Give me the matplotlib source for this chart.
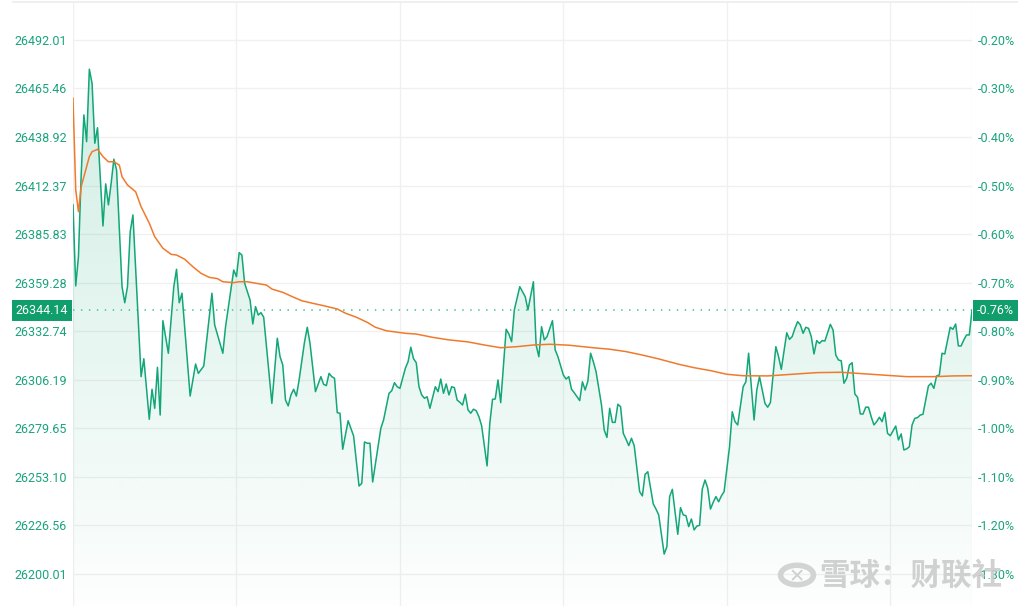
import numpy as np
import matplotlib
matplotlib.use("Agg")
import matplotlib.pyplot as plt
import matplotlib.transforms as mtransforms
from matplotlib.lines import Line2D
from matplotlib.patches import Circle

plt.rcParams['font.family'] = ['Roboto', 'Noto Sans CJK SC', 'DejaVu Sans']

# minute index (0..330 over the trading day) and index level
price_t = [0, 1, 2, 3, 4, 5, 6, 7, 8, 9, 11, 12, 13, 14, 15, 16, 18, 19, 20, 21, 22,
           25, 26, 28, 29, 30, 31, 32, 33, 35, 37, 38, 39, 40, 43, 45, 46, 48, 51, 52,
           55, 56, 59, 60, 61, 62, 63, 65, 66, 67, 68, 69, 70, 73, 75, 76, 77, 78, 79,
           80, 81, 82, 83, 85, 86, 87, 89, 91, 92, 93, 94, 95, 96, 97, 98, 99, 101,
           102, 103, 105, 106, 107, 108, 109, 110, 113, 114, 116, 117, 118, 119, 120,
           122, 123, 124, 125, 126, 127, 128, 129, 130, 131, 133, 134, 135, 136, 137,
           138, 139, 140, 141, 142, 143, 144, 145, 146, 147, 148, 149, 150, 152, 153,
           154, 155, 156, 157, 159, 160, 161, 162, 163, 164, 165, 166, 167, 169, 170,
           171, 172, 173, 174, 176, 177, 178, 180, 181, 182, 183, 184, 185, 186, 187,
           188, 189, 190, 191, 192, 194, 195, 196, 197, 198, 199, 200, 201, 202, 203,
           204, 205, 206, 208, 209, 210, 211, 213, 214, 215, 217, 218, 219, 220, 222,
           223, 224, 225, 226, 227, 228, 229, 230, 231, 232, 233, 234, 235, 236, 237,
           238, 239, 241, 242, 243, 244, 246, 247, 248, 250, 251, 252, 254, 255, 256,
           258, 259, 260, 262, 263, 264, 265, 266, 267, 268, 269, 270, 271, 272, 273,
           274, 275, 276, 278, 279, 280, 281, 282, 283, 284, 285, 286, 287, 288, 289,
           290, 291, 292, 293, 294, 295, 296, 297, 298, 299, 300, 302, 303, 304, 305,
           306, 307, 308, 309, 310, 311, 312, 314, 315, 316, 317, 318, 319, 320, 322,
           323, 324, 325, 326, 327, 328, 329, 330]
price_v = [26401.8, 26357.5, 26373.5, 26418.2, 26451.0, 26436.4, 26476.0, 26468.3,
           26435.5, 26444.0, 26390.3, 26413.3, 26401.8, 26413.6, 26426.8, 26420.9,
           26357.1, 26348.3, 26357.1, 26387.2, 26396.3, 26307.9, 26317.7, 26284.6,
           26301.0, 26290.6, 26313.0, 26286.9, 26338.5, 26320.7, 26357.1, 26366.6,
           26348.3, 26353.5, 26297.3, 26314.8, 26309.7, 26313.7, 26353.5, 26336.2,
           26320.7, 26335.2, 26366.2, 26362.6, 26375.7, 26374.4, 26359.0, 26349.8,
           26336.7, 26346.2, 26341.6, 26342.9, 26340.4, 26293.3, 26328.9, 26318.8,
           26314.3, 26295.1, 26291.9, 26297.9, 26301.0, 26297.3, 26306.1, 26327.0,
           26334.9, 26326.1, 26299.7, 26307.9, 26303.7, 26303.0, 26309.7, 26307.9,
           26307.0, 26288.2, 26287.9, 26268.2, 26283.8, 26279.7, 26275.5, 26248.1,
           26249.6, 26272.2, 26271.5, 26271.5, 26250.3, 26279.7, 26284.2, 26298.8,
           26300.2, 26304.6, 26302.4, 26301.5, 26312.5, 26316.1, 26324.0, 26317.7,
           26315.5, 26302.4, 26297.9, 26296.1, 26296.9, 26290.6, 26302.4, 26299.7,
           26306.6, 26298.8, 26303.9, 26297.9, 26302.4, 26301.9, 26295.1, 26293.9,
           26292.4, 26298.3, 26289.7, 26287.9, 26290.1, 26289.3, 26286.0, 26281.1,
           26259.1, 26282.4, 26295.5, 26295.7, 26306.1, 26293.7, 26333.8, 26331.2,
           26327.0, 26344.4, 26350.8, 26357.1, 26354.4, 26351.6, 26344.4, 26359.8,
           26325.2, 26318.8, 26335.2, 26328.0, 26329.8, 26338.5, 26322.5, 26318.8,
           26308.8, 26306.6, 26307.9, 26301.0, 26299.1, 26296.9, 26294.8, 26305.1,
           26300.6, 26305.5, 26320.7, 26316.1, 26310.6, 26292.4, 26278.7, 26274.7,
           26290.6, 26282.9, 26282.9, 26292.8, 26291.5, 26276.9, 26273.7, 26270.2,
           26274.2, 26270.2, 26245.0, 26242.7, 26254.5, 26255.9, 26238.3, 26235.5,
           26232.3, 26210.9, 26214.9, 26242.3, 26246.3, 26221.7, 26236.3, 26232.3,
           26231.9, 26225.9, 26230.1, 26224.1, 26226.2, 26226.6, 26246.5, 26251.4,
           26246.9, 26235.5, 26239.2, 26242.3, 26239.5, 26242.7, 26245.0, 26269.6,
           26288.7, 26283.3, 26281.5, 26302.4, 26305.1, 26320.7, 26284.2, 26300.6,
           26307.9, 26293.3, 26291.2, 26293.7, 26324.3, 26318.8, 26311.9, 26331.9,
           26328.3, 26329.8, 26334.3, 26338.0, 26336.2, 26331.6, 26334.9, 26334.3,
           26329.8, 26320.3, 26327.6, 26326.1, 26327.6, 26327.4, 26336.5, 26333.4,
           26319.7, 26317.0, 26316.6, 26304.3, 26307.0, 26314.3, 26315.5, 26298.4,
           26296.6, 26287.5, 26287.5, 26291.2, 26291.2, 26286.0, 26281.5, 26283.3,
           26285.7, 26283.3, 26288.4, 26276.9, 26275.6, 26280.9, 26273.3, 26276.6,
           26267.8, 26268.4, 26269.6, 26281.5, 26285.1, 26285.5, 26286.9, 26287.3,
           26302.8, 26304.3, 26301.5, 26308.3, 26308.8, 26320.7, 26320.3, 26334.9,
           26333.8, 26336.7, 26324.7, 26324.7, 26328.0, 26330.7, 26330.7, 26344.14]

# average price line
avg_t = [0, 1, 2, 3, 6, 7, 9, 11, 13, 15, 17, 18, 20, 23, 25, 28, 30, 33, 36, 38, 41,
         44, 47, 50, 53, 55, 59, 61, 64, 67, 71, 73, 77, 81, 84, 88, 92, 97, 100, 104,
         108, 111, 115, 119, 122, 126, 132, 138, 145, 151, 157, 163, 169, 175, 182,
         191, 197, 203, 209, 215, 222, 228, 234, 240, 246, 255, 264, 273, 282, 288,
         297, 306, 316, 323, 330]
avg_v = [26460.1, 26410.0, 26398.1, 26411.8, 26428.2, 26430.9, 26432.2, 26428.2,
         26425.4, 26425.4, 26423.6, 26417.2, 26412.7, 26409.0, 26400.8, 26391.8,
         26384.4, 26378.1, 26374.8, 26374.4, 26372.1, 26368.0, 26364.4, 26362.2,
         26361.5, 26359.8, 26359.3, 26359.8, 26359.8, 26359.0, 26358.0, 26355.8,
         26354.0, 26351.3, 26349.4, 26348.0, 26346.7, 26344.9, 26342.6, 26340.4,
         26337.6, 26334.9, 26333.0, 26332.2, 26331.6, 26331.2, 26329.4, 26328.0,
         26326.9, 26325.2, 26323.7, 26324.3, 26325.2, 26325.6, 26325.1, 26323.7,
         26322.9, 26321.6, 26319.7, 26317.6, 26314.8, 26312.8, 26311.2, 26309.2,
         26308.4, 26308.3, 26309.2, 26310.1, 26310.3, 26309.7, 26308.8, 26307.9,
         26307.9, 26308.3, 26308.4]

left_ticks = [26200.01, 26226.56, 26253.10, 26279.65, 26306.19, 26332.74,
              26359.28, 26385.83, 26412.37, 26438.92, 26465.46, 26492.01]
right_labels = ['-1.30%', '-1.20%', '-1.10%', '-1.00%', '-0.90%', '-0.80%',
                '-0.70%', '-0.60%', '-0.50%', '-0.40%', '-0.30%', '-0.20%']
last_price = 26344.14
last_pct = '-0.76%'
hour_marks = [0, 60, 120, 180, 240, 300, 330]

GREEN = '#12a678'
TXT = '#1aa37c'
ORANGE = '#f07a2c'
GRID = '#f0f0f0'
FS = 9

fig = plt.figure(figsize=(10.28, 6.06), dpi=100)
ax = fig.add_axes([73 / 1028, 0, 899 / 1028, 603 / 606])
ymin, ymax = 26182.5, 26512.2
ax.set_xlim(0, 330)
ax.set_ylim(ymin, ymax)

for s in ax.spines.values():
    s.set_visible(False)
ax.set_xticks(hour_marks)
ax.set_xticklabels([])
ax.set_yticks(left_ticks)
ax.set_yticklabels(['%.2f' % v for v in left_ticks])
ax.tick_params(length=0, pad=4.5, labelsize=FS, labelcolor=TXT)
ax.grid(True, color=GRID, lw=1)
ax.set_axisbelow(True)

ax2 = ax.twinx()
ax2.set_ylim(ymin, ymax)
ax2.set_yticks(left_ticks)
ax2.set_yticklabels(right_labels)
ax2.tick_params(length=0, pad=4, labelsize=FS, labelcolor=TXT)
for s in ax2.spines.values():
    s.set_visible(False)

# gradient area under the price line
poly = ax.fill_between(price_t, price_v, ymin, facecolor='none', edgecolor='none')
grad = np.zeros((256, 1, 4))
grad[:, 0, 0] = 20 / 255
grad[:, 0, 1] = 168 / 255
grad[:, 0, 2] = 118 / 255
grad[:, 0, 3] = np.linspace(0.22, 0.01, 256)
im = ax.imshow(grad, extent=[0, 330, ymin, ymax], aspect='auto', origin='upper',
               zorder=1, interpolation='bilinear')
im.set_clip_path(poly.get_paths()[0], transform=ax.transData)

ax.plot(price_t, price_v, color=GREEN, lw=1.1, zorder=3)
ax.plot(avg_t, avg_v, color=ORANGE, lw=1.1, zorder=4)
ax.axhline(last_price, color='#5cc9a0', lw=1.3, dashes=(0.8, 3.6), zorder=2)

# last price tags
trans = mtransforms.blended_transform_factory(fig.transFigure, ax.transData)
ax.text(68 / 1028, last_price, '%.2f' % last_price, transform=trans, ha='right',
        va='center', color='white', fontsize=FS, zorder=6, clip_on=False,
        bbox=dict(boxstyle='square,pad=0.3', fc='#0f9e6c', ec='none'))
ax.text(977 / 1028, last_price, last_pct, transform=trans, ha='left',
        va='center', color='white', fontsize=FS, zorder=6, clip_on=False,
        bbox=dict(boxstyle='square,pad=0.3', fc='#0f9e6c', ec='none'))

# top border
fig.add_artist(Line2D([13 / 1028, 1017 / 1028], [1 - 2 / 606, 1 - 2 / 606],
                      transform=fig.transFigure, color='#ececec', lw=1.2))

# watermark
fig.add_artist(Circle((797 / 1028, 1 - 575 / 606), 0.016, transform=fig.transFigure,
                      fill=False, ec='#cfcfcf', lw=4, alpha=0.9))
fig.text(797 / 1028, 1 - 577 / 606, '✕', family=['DejaVu Sans'], fontsize=14,
         color='#cfcfcf', ha='center', va='center', fontweight='bold')
fig.text(819 / 1028, 1 - 576 / 606, '雪球：财联社', family=['Noto Sans CJK SC'],
         fontsize=22, color='#cccccc', ha='left', va='center', fontweight='bold',
         alpha=0.9)

fig.savefig('out.png', dpi=100)
